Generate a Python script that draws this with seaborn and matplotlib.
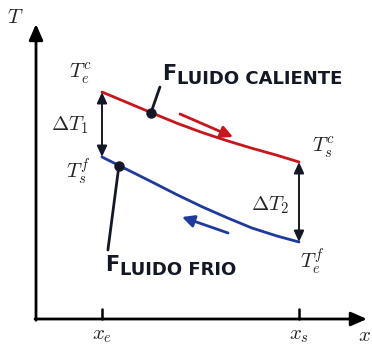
import matplotlib
matplotlib.use("Agg")
import matplotlib.pyplot as plt
import seaborn as sns
import pandas as pd

# Position along the exchanger (0 = inlet x_e, 1 = outlet x_s)
position = [0.0, 0.127, 0.254, 0.381, 0.508, 0.635, 0.761, 0.888, 1.0]
# Hot fluid temperature along the exchanger
t_hot = [90.8, 86.6, 82.4, 78.3, 74.6, 71.3, 68.3, 65.5, 62.8]
# Cold fluid temperature along the exchanger (counter-flow)
t_cold = [64.8, 59.8, 54.8, 49.7, 44.9, 40.5, 36.4, 33.2, 30.8]

hot_marker = (0.249, 82.6)
cold_marker = (0.086, 61.4)

tick_positions = [0.0, 1.0]
tick_labels = [r"$x_e$", r"$x_s$"]

RED = "#c8161d"
BLUE = "#1f3a9e"
INK = "#141726"

sns.set_theme(style="white")
plt.rcParams["mathtext.fontset"] = "cm"
plt.rcParams["font.family"] = ["DejaVu Sans"]

fig = plt.figure(figsize=(3.72, 3.46), dpi=100)
ax = fig.add_axes([0, 0, 1, 1])
ax.set_xlim(-0.5178, 1.3706)
ax.set_ylim(-10.8, 127.6)
ax.axis("off")

df = pd.DataFrame({"x": position, "hot": t_hot, "cold": t_cold})
sns.lineplot(data=df, x="x", y="hot", color=RED, lw=2.0, ax=ax)
sns.lineplot(data=df, x="x", y="cold", color=BLUE, lw=2.0, ax=ax)

# Coordinate axes with arrows
x0, y0 = -0.335, 0.0
ax.annotate("", xy=(x0, 118.0), xytext=(x0, y0 - 0.5),
            arrowprops=dict(arrowstyle="-|>,head_length=0.8,head_width=0.35",
                            color="black", lw=2.0, shrinkA=0, shrinkB=0))
ax.annotate("", xy=(1.345, y0), xytext=(x0 - 0.005, y0),
            arrowprops=dict(arrowstyle="-|>,head_length=0.8,head_width=0.35",
                            color="black", lw=2.0, shrinkA=0, shrinkB=0))
for xt, lab in zip(tick_positions, tick_labels):
    ax.plot([xt, xt], [y0, 4.2], color="black", lw=1.8)
    ax.text(xt, -10.5, lab, ha="center", va="bottom", fontsize=15)
ax.text(1.33, -10.5, r"$x$", ha="center", va="bottom", fontsize=15)
ax.text(-0.44, 120.8, r"$T$", ha="center", va="center", fontsize=15)

# Temperature differences at each end
arrow_kw = dict(arrowstyle="<|-|>,head_length=0.55,head_width=0.25",
                color=INK, lw=1.4, shrinkA=0, shrinkB=0)
ax.annotate("", xy=(position[0], t_hot[0]), xytext=(position[0], t_cold[0]),
            arrowprops=arrow_kw)
ax.annotate("", xy=(position[-1], t_hot[-1]), xytext=(position[-1], t_cold[-1]),
            arrowprops=arrow_kw)

# Flow direction arrows
ax.annotate("", xy=(0.665, 72.8), xytext=(0.396, 82.0),
            arrowprops=dict(arrowstyle="-|>,head_length=0.6,head_width=0.3",
                            color=RED, lw=2.0, shrinkA=0, shrinkB=0))
ax.annotate("", xy=(0.406, 40.8), xytext=(0.64, 34.4),
            arrowprops=dict(arrowstyle="-|>,head_length=0.6,head_width=0.3",
                            color=BLUE, lw=2.0, shrinkA=0, shrinkB=0))

# Leader lines and markers
ax.plot([hot_marker[0], 0.294], [hot_marker[1], 92.8], color=INK, lw=2.0)
ax.plot([cold_marker[0], 0.030], [cold_marker[1], 27.6], color=INK, lw=2.0)
ax.plot(*hot_marker, "o", color=INK, ms=6.5)
ax.plot(*cold_marker, "o", color=INK, ms=6.5)

# Math labels
ax.text(-0.112, 98.0, r"$T_e^c$", ha="center", va="center", fontsize=15)
ax.text(-0.162, 77.6, r"$\Delta T_1$", ha="center", va="center", fontsize=15)
ax.text(-0.122, 58.8, r"$T_s^f$", ha="center", va="center", fontsize=15)
ax.text(1.122, 68.4, r"$T_s^c$", ha="center", va="center", fontsize=15)
ax.text(0.853, 45.6, r"$\Delta T_2$", ha="center", va="center", fontsize=15)
ax.text(1.066, 22.8, r"$T_e^f$", ha="center", va="center", fontsize=15)

# Small-caps style fluid names
def small_caps(x, y, first, rest):
    t1 = ax.text(x, y, first, ha="left", va="baseline", fontsize=15,
                 fontweight="bold", color=INK)
    ax.annotate(rest, xy=(1, 0), xycoords=t1, xytext=(0.6, 0),
                textcoords="offset points", ha="left", va="baseline",
                fontsize=13, fontweight="bold", color=INK)

small_caps(0.305, 95.6, "F", "LUIDO CALIENTE")
small_caps(0.015, 19.2, "F", "LUIDO FRIO")

fig.savefig("out.png", dpi=100)
